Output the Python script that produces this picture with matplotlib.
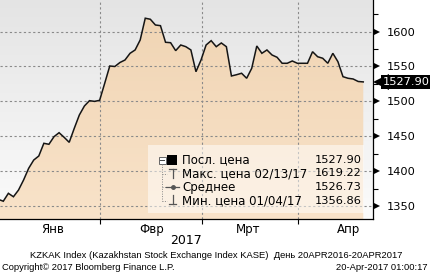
import numpy as np
import matplotlib
matplotlib.use('Agg')
import matplotlib.pyplot as plt
from matplotlib.colors import LinearSegmentedColormap
from matplotlib.patches import Polygon, Rectangle
from matplotlib.lines import Line2D
import matplotlib.transforms as mtransforms

plt.rcParams['font.family'] = ['DejaVu Sans']

# ---------------- data ----------------
# trading-day index (0 = 04 Jan 2017), closing values of KZKAK Index
day_index = list(range(-1, 72))
values = [1359.6, 1356.9, 1368.2, 1363.3, 1372.9, 1387.3, 1404.0, 1415.9, 1421.7, 1439.9, 1438.5,
          1449.4, 1455.1, 1448.5, 1441.3, 1461.4, 1480.5, 1493.4, 1501.0, 1500.0, 1501.5,
          1525.9, 1550.7, 1550.0, 1555.7, 1559.3, 1568.9, 1573.7, 1588.0, 1619.2, 1617.7,
          1609.5, 1608.5, 1584.7, 1584.1, 1572.7, 1580.8, 1578.4, 1573.7, 1542.5, 1559.3,
          1580.8, 1587.0, 1578.4, 1583.7, 1578.4, 1536.4, 1538.2, 1540.3, 1533.1, 1547.4,
          1579.4, 1568.9, 1573.7, 1566.5, 1563.2, 1554.6, 1554.6, 1557.9, 1554.6, 1554.6,
          1554.6, 1571.2, 1564.0, 1561.8, 1554.6, 1568.9, 1556.9, 1535.4, 1533.1, 1532.1,
          1528.5, 1527.9]

month_labels = ['Янв', 'Фвр', 'Мрт', 'Апр']
month_label_pos = [9.8, 29.3, 48.3, 68.0]
month_bounds = [19.07, 39.19, 58.13]
year_label = '2017'

y_major = [1350, 1400, 1450, 1500, 1550, 1600]
y_minor = [1375, 1425, 1475, 1525, 1575, 1625]

last_value = 1527.90
legend_labels = ['Посл. цена', 'Макс. цена 02/13/17', 'Среднее', 'Мин. цена 01/04/17']
legend_values = ['1527.90', '1619.22', '1526.73', '1356.86']

footer1 = 'KZKAK Index (Kazakhstan Stock Exchange Index KASE)  День 20APR2016-20APR2017'
footer2 = 'Copyright© 2017 Bloomberg Finance L.P.'
footer3 = '20-Apr-2017 01:00:17'

# ---------------- figure ----------------
W, H = 430, 277
fig = plt.figure(figsize=(W / 100, H / 100), dpi=100)
fig.patch.set_facecolor('white')

def fx(x):
    return x / W

def fy(y):
    return 1 - y / H

ax = fig.add_axes([0, 58 / H, 373 / W, 219 / H])
xmin, xmax = -0.65, 72.92
ymin, ymax = 1331.4, 1645.3
ax.set_xlim(xmin, xmax)
ax.set_ylim(ymin, ymax)

# background gradient
bg_cmap = LinearSegmentedColormap.from_list('bg', [(0.895, 0.895, 0.895), (0.985, 0.985, 0.985)])
grad = np.linspace(0, 1, 256).reshape(-1, 1)
ax.imshow(grad, extent=[xmin, xmax, ymin, ymax], aspect='auto', cmap=bg_cmap,
          origin='upper', zorder=0, interpolation='bilinear')

# area fill with gradient
x = np.array(day_index, dtype=float)
y = np.array(values)
verts = list(zip(x, y)) + [(x[-1], ymin), (x[0], ymin)]
poly = Polygon(verts, closed=True, facecolor='none', edgecolor='none')
ax.add_patch(poly)
fill_cmap = LinearSegmentedColormap.from_list('fill', [(0.94, 0.83, 0.70), (0.975, 0.89, 0.79)])
im = ax.imshow(grad, extent=[xmin, xmax, ymin, ymax], aspect='auto', cmap=fill_cmap,
               origin='upper', zorder=1, interpolation='bilinear')
im.set_clip_path(poly)

# grid
for v in y_major:
    ax.axhline(v, color='#8a8a8a', lw=0.8, ls=(0, (2, 2.2)), zorder=2)
for b in month_bounds:
    ax.axvline(b, color='#8a8a8a', lw=0.8, ls=(0, (2, 2.2)), zorder=2)

# line
ax.plot(x, y, color='#151515', lw=1.1, zorder=4, solid_joinstyle='miter')

# spines
for s in ['left', 'top']:
    ax.spines[s].set_visible(False)
ax.spines['right'].set_color('black')
ax.spines['bottom'].set_color('black')
ax.spines['right'].set_linewidth(0.9)
ax.spines['bottom'].set_linewidth(0.9)
ax.spines['right'].set_zorder(6)
ax.spines['bottom'].set_zorder(6)

# x ticks
ax.set_xticks(month_bounds)
ax.set_xticklabels([])
ax.tick_params(axis='x', which='major', direction='out', length=3.5, width=0.8, color='black')
ax.set_xticks(month_label_pos, minor=True)
ax.set_xticklabels(month_labels, minor=True, fontsize=8.5)
ax.tick_params(axis='x', which='minor', length=0, pad=3)

# y ticks on right
ax.yaxis.tick_right()
ax.set_yticks(y_major)
ax.set_yticklabels([str(v) for v in y_major], fontsize=8.2)
ax.set_yticks(y_minor, minor=True)
ax.tick_params(axis='y', which='major', length=0, pad=10)
ax.tick_params(axis='y', which='minor', direction='out', length=3.5, width=0.8, color='black')
ax.tick_params(axis='y', which='both', left=False)

# triangle markers for major ticks
tri_tr = mtransforms.offset_copy(ax.get_yaxis_transform(), fig=fig, x=4, y=0, units='dots')
ax.plot([1.0] * len(y_major), y_major, ls='none', marker='>', ms=5, color='black',
        transform=tri_tr, clip_on=False, zorder=7, markeredgewidth=0)

# last value tag
tag_tr = mtransforms.offset_copy(ax.get_yaxis_transform(), fig=fig, x=8, y=0, units='dots')
ax.plot([1.0], [last_value], ls='none', marker='<', ms=11, color='black',
        transform=tag_tr, clip_on=False, zorder=7, markeredgewidth=0)
ax.annotate(f'{last_value:.2f}', xy=(1.0, last_value), xycoords=('axes fraction', 'data'),
            xytext=(10, 0), textcoords='offset pixels', ha='left', va='center',
            fontsize=8.2, color='white', zorder=8, annotation_clip=False,
            bbox=dict(boxstyle='square,pad=0.2', fc='black', ec='none'))

# ---------------- legend ----------------
leg_bg = Rectangle((fx(148), fy(213)), fx(364) - fx(148), fy(145) - fy(213),
                   transform=fig.transFigure, facecolor='white', alpha=0.5,
                   edgecolor='none', zorder=5)
fig.add_artist(leg_bg)

row_y = [160, 173.5, 187, 201]
for lab, val, ry in zip(legend_labels, legend_values, row_y):
    fig.text(fx(182), fy(ry), lab, fontsize=8.5, ha='left', va='center', zorder=10)
    fig.text(fx(362), fy(ry), val, fontsize=8.2, ha='right', va='center', zorder=10)

def fline(xs, ys, **kw):
    fig.add_artist(Line2D([fx(v) for v in xs], [fy(v) for v in ys],
                          transform=fig.transFigure, zorder=10, **kw))

# tree box (minus)
fig.add_artist(Rectangle((fx(158.5), fy(163.5)), fx(7), fy(156.5) - fy(163.5),
                         transform=fig.transFigure, facecolor='white', edgecolor='#666666',
                         lw=0.7, zorder=10))
fline([160, 164], [160, 160], color='#444444', lw=0.7)
# black square
fig.add_artist(Rectangle((fx(167), fy(165)), fx(10), fy(155) - fy(165),
                         transform=fig.transFigure, facecolor='black', edgecolor='none',
                         zorder=10))
# dotted tree
fline([162, 162], [164, 201], color='#888888', lw=0.7, ls=(0, (1, 1.5)))
for ry in row_y[1:]:
    fline([162, 167], [ry, ry], color='#888888', lw=0.7, ls=(0, (1, 1.5)))
# max icon (T)
fline([169, 176], [168.5, 168.5], color='#555555', lw=0.9)
fline([172.5, 172.5], [168.5, 178], color='#555555', lw=0.9)
# average icon
fline([166, 179], [187, 187], color='#555555', lw=0.9)
fline([172.5], [187], color='#555555', marker='o', ms=2.5, lw=0)
# min icon
fline([172.5, 172.5], [195, 204], color='#555555', lw=0.9)
fline([169, 176], [204, 204], color='#555555', lw=0.9)

# ---------------- footer ----------------
ff = ['Liberation Sans', 'DejaVu Sans']
fig.text(fx(186), fy(240), year_label, fontsize=9, ha='center', va='center')
fig.text(fx(30), fy(256), footer1, fontsize=6.75, ha='left', va='center', family=ff)
fig.text(fx(2), fy(268), footer2, fontsize=6.75, ha='left', va='center', family=ff)
fig.text(fx(427), fy(268), footer3, fontsize=6.75, ha='right', va='center', family=ff)

fig.savefig('out.png', dpi=100)
